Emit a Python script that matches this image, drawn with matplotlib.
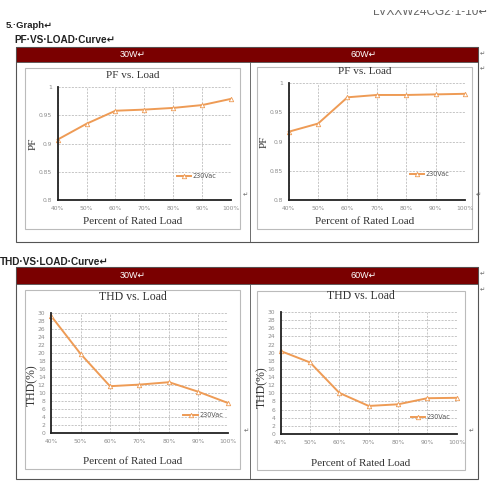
import matplotlib.pyplot as plt
from matplotlib.patches import Rectangle
from matplotlib.lines import Line2D

# data
loads = ["40%", "50%", "60%", "70%", "80%", "90%", "100%"]
pf_30w = [0.907, 0.935, 0.958, 0.960, 0.963, 0.968, 0.979]
pf_60w = [0.917, 0.931, 0.976, 0.980, 0.980, 0.981, 0.982]
thd_30w = [29.3, 19.8, 11.7, 12.1, 12.7, 10.3, 7.5]
thd_60w = [20.4, 17.6, 10.1, 6.9, 7.3, 8.8, 8.9]
pf_ticks = [0.8, 0.85, 0.9, 0.95, 1.0]
pf_ticklabels = ["0.8", "0.85", "0.9", "0.95", "1"]
thd_ticks = list(range(0, 31, 2))
series_name = "230Vac"

LINE_COLOR = "#EE9B55"
HEADER_RED = "#7A0000"
SERIF = ["Liberation Serif", "DejaVu Serif"]
SANS = ["Liberation Sans", "DejaVu Sans"]

W = H = 500
fig = plt.figure(figsize=(5, 5), dpi=100)


def box(x0, y0, x1, y1):
    # pixel coords (top-left origin) -> figure fraction rect
    return [x0 / W, 1 - y1 / H, (x1 - x0) / W, (y1 - y0) / H]


def rect(x0, y0, x1, y1, zorder=-2, **kw):
    l, b, w, h = box(x0, y0, x1, y1)
    fig.patches.append(Rectangle((l, b), w, h, transform=fig.transFigure, zorder=zorder, **kw))


def text(x, y, s, **kw):
    fig.text(x / W, 1 - y / H, s, **kw)


def table(top, hdr_bottom, bottom):
    rect(16, top, 478, bottom, facecolor="white", edgecolor="#555555", lw=0.8)
    rect(16, top, 478, hdr_bottom, facecolor=HEADER_RED, edgecolor="#555555", lw=0.6)
    fig.add_artist(Line2D([250 / W, 250 / W], [1 - hdr_bottom / H, 1 - bottom / H],
                          transform=fig.transFigure, color="#555555", lw=0.6, zorder=-1))
    yc = (top + hdr_bottom) / 2
    text(133, yc, "30W\u21b5", color="white", fontsize=6.5, family=SANS, ha="center", va="center")
    text(364, yc, "60W\u21b5", color="white", fontsize=6.5, family=SANS, ha="center", va="center")


def chart(frame, axbox, x, y, ticks, ticklabels, ylim, title, title_y, ylabel, ylabel_xy,
          xlabel_y, leg_anchor, tsize):
    rect(*frame, facecolor="white", edgecolor="#BBBBBB", lw=0.8)
    ax = fig.add_axes(box(*axbox))
    ax.set_zorder(2)
    ax.patch.set_alpha(0)
    idx = list(range(len(x)))
    ax.plot(idx, y, color=LINE_COLOR, lw=1.4, marker="^", ms=3.2,
            mfc="white", mec=LINE_COLOR, mew=0.6, label=series_name, clip_on=False)
    ax.set_xlim(0, len(x) - 1)
    ax.set_ylim(*ylim)
    ax.set_xticks(idx)
    ax.set_xticklabels(x)
    ax.set_yticks(ticks)
    ax.set_yticklabels(ticklabels)
    ax.tick_params(length=0, labelsize=4.3, labelcolor="#8C8C8C", pad=4)
    ax.grid(True, color="#BDBDBD", lw=0.6, ls=(0, (2.5, 1.5)))
    for s in ("top", "right"):
        ax.spines[s].set_visible(False)
    for s in ("left", "bottom"):
        ax.spines[s].set_linewidth(1.3)
        ax.spines[s].set_color("#222222")
    ax.legend(loc="center left", bbox_to_anchor=leg_anchor, frameon=False,
              fontsize=4.7, handlelength=2.2, handletextpad=0.2, borderpad=0,
              labelcolor="#555555")
    cx = (frame[0] + frame[2]) / 2
    text(cx, title_y, title, fontsize=tsize, family=SERIF, color="#333333",
         ha="center", va="center")
    text(cx, xlabel_y, "Percent of Rated Load", fontsize=8, family=SERIF,
         color="#333333", ha="center", va="center")
    text(ylabel_xy[0], ylabel_xy[1], ylabel, fontsize=tsize, family=SERIF,
         color="#333333", rotation=90, ha="center", va="center")
    return ax


# page text (running header is cut off at the top in the scan)
text(373, 12, "LVXXW24CG2\u00b71-10\u21b5", fontsize=8.5, family=SANS, color="#666666",
     ha="left", va="center")
rect(360, 0, 500, 9.5, zorder=10, facecolor="white", edgecolor="none")
text(6, 25, "5.\u00b7Graph\u21b5", fontsize=6.8, family=SANS, weight="bold",
     color="#222222", ha="left", va="center")
text(14, 40, "PF\u00b7VS\u00b7LOAD\u00b7Curve\u21b5", fontsize=7.2, family=SANS,
     weight="bold", color="#222222", ha="left", va="center")
text(0, 262, "THD\u00b7VS\u00b7LOAD\u00b7Curve\u21b5", fontsize=7.2, family=SANS,
     weight="bold", color="#222222", ha="left", va="center")

table(47, 62, 242)
table(267, 284, 479)

chart((25, 68, 240, 229), (57.7, 87, 231, 200), loads, pf_30w, pf_ticks, pf_ticklabels,
      (0.8, 1.0), "PF vs. Load", 76, "PF", (33, 144), 221, (0.67, 0.21), 8)
chart((257, 67, 472, 229), (288.7, 83.3, 465, 200), loads, pf_60w, pf_ticks, pf_ticklabels,
      (0.8, 1.0), "PF vs. Load", 71, "PF", (264, 142), 222, (0.67, 0.22), 8)
chart((25, 290, 240, 469), (51, 313, 228, 433), loads, thd_30w, thd_ticks,
      [str(t) for t in thd_ticks], (0, 30), "THD vs. Load", 297, "THD(%)", (32, 385),
      462, (0.73, 0.15), 8.5)
chart((257, 291, 465, 470), (280.7, 312, 456.7, 434), loads, thd_60w, thd_ticks,
      [str(t) for t in thd_ticks], (0, 30), "THD vs. Load", 296, "THD(%)", (262.5, 387),
      464, (0.72, 0.14), 8.5)

# word paragraph marks
for px, py in [(243, 195), (476, 195), (480, 54), (480, 69), (244, 431), (469, 431),
               (480, 274), (480, 290)]:
    text(px, py, "\u21b5", fontsize=4.5, family=SANS, color="#666666", ha="left", va="center")

fig.savefig("out.png", dpi=100)
